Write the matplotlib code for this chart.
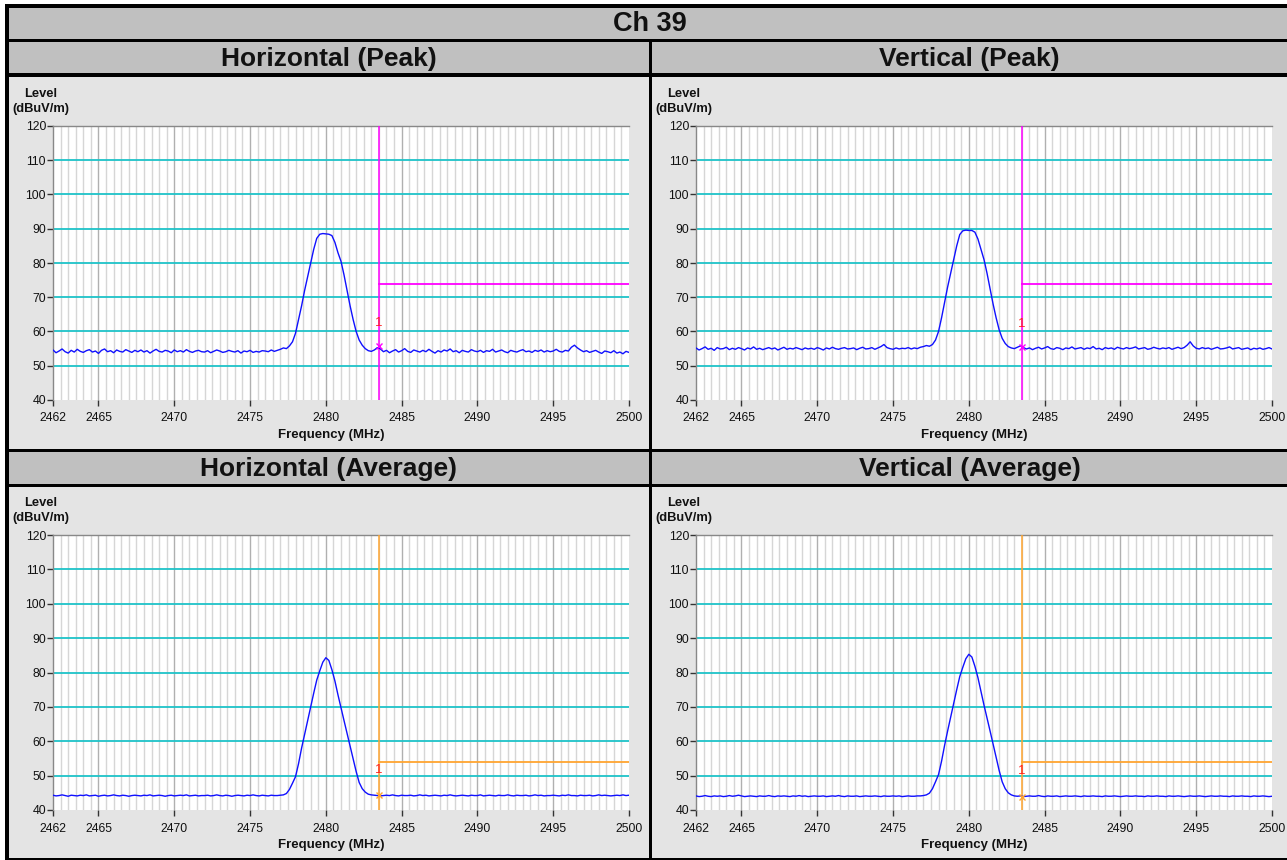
import numpy as np
import matplotlib
matplotlib.use("Agg")
import matplotlib.pyplot as plt
from matplotlib.patches import Rectangle

plt.rcParams['font.family'] = ['Liberation Sans', 'DejaVu Sans']

# ---------------- data ----------------
title = "Ch 39"
panel_titles = ["Horizontal (Peak)", "Vertical (Peak)", "Horizontal (Average)", "Vertical (Average)"]
x_ticks = [2462, 2465, 2470, 2475, 2480, 2485, 2490, 2495, 2500]
y_ticks = [40, 50, 60, 70, 80, 90, 100, 110, 120]
freq_start = 2462.0
freq_step = 0.2

h_peak_left = [
    54.6, 53.8, 54.3, 54.9, 54.1, 53.7, 54.5, 54.0, 54.8, 54.2,
    53.9, 54.4, 54.7, 54.0, 54.3, 53.6, 54.5, 54.9, 54.1, 54.4,
    53.8, 54.6, 54.2, 54.0, 54.7, 54.3, 53.9, 54.5, 54.1, 54.6,
    54.0, 54.4, 53.7, 54.3, 54.8, 54.2, 54.0, 54.5, 54.3, 53.8,
    54.6, 54.1, 54.4, 54.0, 54.7, 54.2, 53.9, 54.3, 54.5, 54.1,
    54.0, 54.4, 53.8, 54.2, 54.6, 54.3, 53.9, 54.1, 54.5, 54.2,
    54.0, 54.4, 53.7, 54.3, 54.1, 54.5, 53.9, 54.2, 54.0, 54.4,
    54.3, 54.1, 54.6, 54.2, 54.5, 54.8, 55.2, 55.0]
h_peak_mid = [
    55.8, 57.0, 59.5, 63.5, 67.5, 72.0, 76.0, 80.0, 84.0, 87.2,
    88.4, 88.6, 88.5, 88.4, 88.0, 86.0, 83.0, 80.5, 76.5, 72.0,
    67.5, 63.5, 60.0, 57.5, 56.0, 55.0, 54.4]
h_peak_right = [
    54.2, 54.6, 55.3, 54.9, 54.1, 54.5, 53.8, 54.3, 54.7, 54.0,
    54.4, 55.0, 54.2, 53.9, 54.6, 54.3, 54.0, 54.5, 54.1, 54.8,
    54.2, 53.7, 54.4, 54.0, 54.6, 54.3, 54.9, 54.1, 54.4, 53.8,
    54.5, 54.2, 54.0, 54.7, 54.3, 54.1, 54.5, 53.9, 54.4, 54.2,
    54.8, 54.0, 54.3, 54.6, 54.1, 53.8, 54.5, 54.2, 54.0, 54.4,
    54.7, 54.1, 54.3, 53.9, 54.5, 54.2, 54.6, 54.0, 54.4, 54.1,
    54.3, 54.8, 54.2, 54.0, 54.5, 54.3, 55.4, 56.0, 55.2, 54.6,
    54.1, 54.4, 53.9, 54.2, 54.5, 54.0, 53.6, 54.3, 54.1, 53.8,
    54.4, 53.7, 54.0, 53.5, 54.2, 53.9]

v_peak_left = [
    55.2, 54.6, 55.0, 55.5, 54.8, 55.1, 54.5, 55.3, 54.9, 55.0,
    55.4, 54.7, 55.1, 54.8, 55.3, 55.0, 54.6, 55.2, 54.9, 55.5,
    54.8, 55.1, 54.7, 55.0, 55.3, 54.9, 55.2, 54.6, 55.0, 55.4,
    54.8, 55.1, 54.9, 55.3, 55.0, 54.7, 55.2, 54.9, 55.1, 54.8,
    55.3, 55.0, 54.6, 55.2, 54.9, 55.4, 55.0, 54.8, 55.1, 55.3,
    54.9, 55.0, 55.2, 54.7, 55.1, 55.4, 54.9, 55.0, 55.3, 54.8,
    55.2, 55.6, 56.2, 55.3, 55.0, 54.8, 55.2, 54.9, 55.1, 55.0,
    55.3, 54.9, 55.2, 55.0, 55.4, 55.6, 55.9, 55.7]
v_peak_mid = [
    56.2, 57.5, 60.0, 64.0, 68.5, 73.0, 77.0, 81.0, 85.0, 88.3,
    89.4, 89.6, 89.5, 89.5, 89.0, 87.0, 84.0, 81.0, 77.0, 72.5,
    68.0, 64.0, 60.5, 58.0, 56.5, 55.6, 55.2]
v_peak_right = [
    55.0, 55.4, 55.8, 55.3, 54.9, 55.2, 54.7, 55.1, 55.4, 54.9,
    55.2, 55.6, 55.0, 54.8, 55.3, 55.1, 54.7, 55.2, 55.0, 55.5,
    54.9, 55.1, 55.3, 54.8, 55.2, 55.0, 55.6, 54.9, 55.1, 54.7,
    55.3, 55.0, 55.2, 54.8, 55.4, 55.1, 54.9, 55.3, 55.0, 55.2,
    55.5, 54.9, 55.1, 55.3, 54.8, 55.0, 55.4, 55.1, 54.9, 55.2,
    55.0, 55.3, 54.8, 55.1, 55.4, 55.0, 55.3, 56.0, 57.0, 55.8,
    55.1, 54.9, 55.3, 55.0, 55.2, 54.8, 55.1, 55.4, 54.9, 55.0,
    55.2, 55.5, 54.9, 55.1, 55.3, 54.8, 55.0, 55.2, 54.7, 55.1,
    54.9, 55.2, 54.8, 55.0, 55.3, 54.9]

h_avg_left = [
    44.3, 44.1, 44.2, 44.4, 44.2, 44.0, 44.3, 44.2, 44.1, 44.3,
    44.2, 44.4, 44.1, 44.2, 44.3, 44.0, 44.2, 44.3, 44.1, 44.2,
    44.4, 44.2, 44.1, 44.3, 44.2, 44.0, 44.2, 44.3, 44.2, 44.1,
    44.3, 44.2, 44.4, 44.1, 44.2, 44.3, 44.2, 44.0, 44.2, 44.3,
    44.1, 44.2, 44.3, 44.2, 44.4, 44.1, 44.2, 44.3, 44.1, 44.2,
    44.2, 44.3, 44.1, 44.2, 44.4, 44.2, 44.1, 44.3, 44.2, 44.0,
    44.2, 44.3, 44.2, 44.1, 44.3, 44.2, 44.4, 44.2, 44.1, 44.3,
    44.2, 44.1, 44.3, 44.2, 44.2]
h_avg_mid = [
    44.3, 44.4, 44.8, 46.0, 47.8, 49.7, 53.5, 58.0, 62.0, 66.0,
    70.0, 74.0, 77.8, 80.5, 83.0, 84.3, 83.5, 80.8, 77.5, 73.5,
    69.7, 66.0, 62.3, 58.5, 54.8, 51.2, 48.0, 46.2, 45.2, 44.6,
    44.4]
h_avg_right = [
    44.3, 44.2, 44.1, 44.2, 44.3, 44.2, 44.4, 44.2, 44.1, 44.3,
    44.2, 44.2, 44.3, 44.1, 44.2, 44.4, 44.2, 44.3, 44.1, 44.2,
    44.3, 44.2, 44.1, 44.3, 44.2, 44.4, 44.2, 44.1, 44.2, 44.3,
    44.2, 44.1, 44.3, 44.2, 44.2, 44.4, 44.1, 44.2, 44.3, 44.2,
    44.1, 44.3, 44.2, 44.2, 44.4, 44.2, 44.1, 44.3, 44.2, 44.2,
    44.3, 44.1, 44.2, 44.4, 44.2, 44.3, 44.1, 44.2, 44.2, 44.3,
    44.2, 44.1, 44.3, 44.2, 44.4, 44.2, 44.2, 44.1, 44.3, 44.2,
    44.2, 44.3, 44.1, 44.2, 44.4, 44.2, 44.3, 44.2, 44.1, 44.2,
    44.3, 44.2, 44.4, 44.2, 44.3]

v_avg_left = [
    44.1, 43.9, 44.0, 44.2, 44.0, 43.9, 44.1, 44.0, 44.1, 43.9,
    44.0, 44.2, 44.0, 44.1, 44.3, 44.1, 43.9, 44.0, 44.1, 44.0,
    43.9, 44.1, 44.0, 44.0, 44.2, 44.0, 43.9, 44.1, 44.0, 44.1,
    44.0, 43.9, 44.1, 44.0, 44.2, 44.0, 44.1, 43.9, 44.0, 44.1,
    44.0, 44.0, 44.1, 43.9, 44.0, 44.1, 44.0, 44.2, 44.0, 43.9,
    44.1, 44.0, 44.0, 44.1, 43.9, 44.0, 44.1, 44.0, 44.0, 44.1,
    44.0, 43.9, 44.1, 44.0, 44.0, 44.1, 44.0, 44.1, 43.9, 44.0,
    44.1, 44.0, 44.0, 44.1, 44.1]
v_avg_mid = [
    44.2, 44.4, 44.9, 46.2, 48.2, 50.3, 54.2, 58.8, 63.0, 67.0,
    71.0, 75.0, 78.8, 81.5, 84.0, 85.3, 84.5, 81.8, 78.5, 74.5,
    70.5, 66.8, 63.0, 59.2, 55.3, 51.5, 48.2, 46.2, 45.0, 44.4,
    44.1]
v_avg_right = [
    44.0, 44.1, 43.9, 44.0, 44.1, 44.0, 44.0, 44.2, 44.0, 43.9,
    44.1, 44.0, 44.0, 44.1, 43.9, 44.0, 44.1, 44.0, 44.0, 44.1,
    44.0, 43.9, 44.1, 44.0, 44.0, 44.1, 44.0, 44.0, 43.9, 44.1,
    44.0, 44.0, 44.1, 44.0, 43.9, 44.0, 44.1, 44.0, 44.0, 44.1,
    44.0, 44.0, 43.9, 44.1, 44.0, 44.0, 44.1, 44.0, 44.0, 43.9,
    44.1, 44.0, 44.0, 44.1, 44.0, 43.9, 44.0, 44.1, 44.0, 44.0,
    44.1, 44.0, 43.9, 44.0, 44.1, 44.0, 44.0, 44.1, 44.0, 44.0,
    43.9, 44.1, 44.0, 44.0, 44.1, 44.0, 44.0, 43.9, 44.1, 44.0,
    44.0, 44.1, 44.0, 43.9, 44.0]

traces = [h_peak_left + h_peak_mid + h_peak_right,
          v_peak_left + v_peak_mid + v_peak_right,
          h_avg_left + h_avg_mid + h_avg_right,
          v_avg_left + v_avg_mid + v_avg_right]

band_edge = 2483.5
limit_levels = [74, 74, 54, 54]
marker_levels = [55.9, 55.4, 44.4, 43.9]
marker_label_levels = [62.5, 62.3, 51.5, 51.2]

# ---------------- layout ----------------
W, H = 1287, 860
fig = plt.figure(figsize=(W / 100, H / 100), dpi=100)
fig.patch.set_facecolor('white')


def frect(x0, y0, x1, y1):
    return [x0 / W, 1 - y1 / H, (x1 - x0) / W, (y1 - y0) / H]


def add_block(x0, y0, x1, y1, color):
    r = frect(x0, y0, x1, y1)
    fig.patches.append(Rectangle((r[0], r[1]), r[2], r[3], transform=fig.transFigure,
                                 facecolor=color, edgecolor='none', zorder=-10))


add_block(5, 4, W, H, 'black')
add_block(9, 8, W, 39, '#c0c0c0')
col_x = [(9, 649), (652, W)]
for (x0, x1) in col_x:
    add_block(x0, 42, x1, 73, '#c0c0c0')
    add_block(x0, 77, x1, 449, '#e4e4e4')
    add_block(x0, 452, x1, 484, '#c0c0c0')
    add_block(x0, 487, x1, 858, '#e4e4e4')

fig.text(650 / W, 1 - 24 / H, title, ha='center', va='center',
         fontsize=19.5, fontweight='bold', color='#111111')

sub_y = [59, 469]
ax_boxes = [(53, 126, 629, 400), (696, 126, 1272, 400),
            (53, 535, 629, 810), (696, 535, 1272, 810)]
title_pos = [((9 + 649) / 2, sub_y[0]), ((652 + W) / 2, sub_y[0]),
             ((9 + 649) / 2, sub_y[1]), ((652 + W) / 2, sub_y[1])]

minor_x = [f for f in np.arange(2462.5, 2500.0, 0.5) if abs(f / 5 - round(f / 5)) > 1e-6]
major_x = [2465, 2470, 2475, 2480, 2485, 2490, 2495]
limit_colors = ['#ff00ff', '#ff00ff', '#ffa530', '#ffa530']

for k in range(4):
    x0, y0, x1, y1 = ax_boxes[k]
    ax = fig.add_axes(frect(x0, y0, x1, y1))
    ax.set_zorder(5)
    ax.set_facecolor('white')
    ax.set_xlim(2462, 2500)
    ax.set_ylim(40, 120)

    ax.vlines(minor_x, 40, 120, color='#d6d6d6', lw=1.0, zorder=1)
    ax.vlines(major_x, 40, 120, color='#b0b0b0', lw=1.0, zorder=1)
    ax.hlines([50, 60, 70, 80, 90, 100, 110], 2462, 2500, color='#1ec3c8', lw=1.3, zorder=2)

    lv = np.array(traces[k])
    fr = freq_start + freq_step * np.arange(len(lv))
    ax.plot(fr, lv, color='#1010ff', lw=1.0, zorder=4)

    lc = limit_colors[k]
    ax.plot([band_edge, band_edge], [40, 120], color=lc, lw=1.1, zorder=3)
    ax.plot([band_edge, 2500], [limit_levels[k], limit_levels[k]], color=lc, lw=1.3, zorder=3)
    ax.plot([band_edge], [marker_levels[k]], marker='x', color=lc, ms=4, mew=1.0, zorder=5)
    ax.text(band_edge, marker_label_levels[k], '1', color='#ff2020', fontsize=9.5,
            ha='center', va='center', zorder=6)

    for s in ['right', 'bottom']:
        ax.spines[s].set_visible(False)
    for s in ['left', 'top']:
        ax.spines[s].set_color('#888888')
        ax.spines[s].set_linewidth(1.0)

    ax.set_xticks(x_ticks)
    ax.set_xticklabels([str(t) for t in x_ticks])
    ax.set_yticks(y_ticks)
    ax.set_yticklabels([str(t) for t in y_ticks])
    ax.tick_params(axis='both', direction='out', length=4, width=1.0, color='#333333',
                   labelsize=8.8, labelcolor='#111111')
    ax.tick_params(axis='x', pad=5)
    ax.tick_params(axis='y', pad=1)

    # labels
    lx = 41 if x0 < 600 else 684
    fig.text(lx / W, 1 - (y0 - 32) / H, 'Level', ha='center', va='center',
             fontsize=9.3, fontweight='bold', color='#111111')
    fig.text(lx / W, 1 - (y0 - 17) / H, '(dBuV/m)', ha='center', va='center',
             fontsize=9.3, fontweight='bold', color='#111111')
    fig.text(((x0 + x1) / 2 - 10) / W, 1 - (y1 + 35) / H, 'Frequency (MHz)', ha='center',
             va='center', fontsize=9.5, fontweight='bold', color='#111111')

    tx, ty = title_pos[k]
    fig.text(tx / W, 1 - ty / H, panel_titles[k], ha='center', va='center',
             fontsize=19, fontweight='bold', color='#111111')

fig.savefig('out.png', dpi=100, facecolor=fig.get_facecolor())
